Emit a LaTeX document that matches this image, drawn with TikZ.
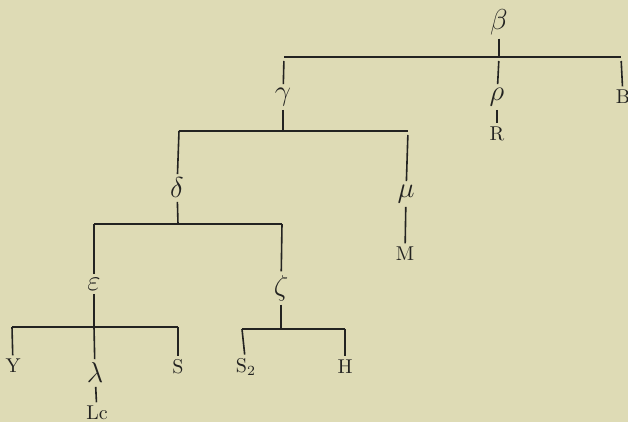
\documentclass[tikz,border=0pt]{standalone}
\usepackage{tikz}
\usepackage{amsmath}
\definecolor{paper}{RGB}{222,219,181}
\definecolor{ink}{RGB}{35,35,33}

\begin{document}
\begin{tikzpicture}[x=0.5pt,y=-0.5pt,
    cladelbl/.style={font=\Large, text=ink},
    taxonlbl/.style={font=\normalsize, text=ink},
    every path/.style={line width=0.8pt}]
    \tikzstyle{every node}+=[inner sep=1.5pt]
    \useasboundingbox [fill=paper] (0,0) rectangle (628,422);
    % labels
    \node [cladelbl] (beta) at (499,22) {$\beta$};
    \node [cladelbl] (gamma) at (283,97) {$\gamma$};
    \node [cladelbl] (rho) at (497,97) {$\rho$};
    \node [taxonlbl] (R) at (497,134) {R};
    \node [taxonlbl] (B) at (623,97) {B};
    \node [cladelbl] (delta) at (177,188) {$\delta$};
    \node [cladelbl] (mu) at (406,194) {$\mu$};
    \node [taxonlbl] (M) at (405,254) {M};
    \node [cladelbl] (eps) at (94,284) {$\varepsilon$};
    \node [cladelbl] (zeta) at (281,288) {$\zeta$};
    \node [taxonlbl] (Y) at (13,366) {Y};
    \node [cladelbl] (lambda) at (95,373) {$\lambda$};
    \node [taxonlbl] (S) at (178,367) {S};
    \node [taxonlbl] (Lc) at (97,413) {Lc};
    \node [taxonlbl] (Stwo) at (246,367) {S$_2$};
    \node [taxonlbl] (H) at (345,367) {H};
    % bars
    \coordinate (jb) at (499,57);
    \coordinate (jbL) at (284,57);
    \coordinate (jbR) at (621,57);
    \coordinate (jg) at (283,131);
    \coordinate (jgL) at (179,131);
    \coordinate (jgR) at (408,131);
    \coordinate (jd) at (178,224);
    \coordinate (jdL) at (94,224);
    \coordinate (jdR) at (282,224);
    \coordinate (je) at (94,327);
    \coordinate (jeL) at (12,327);
    \coordinate (jeR) at (178,327);
    \coordinate (jz) at (281,329);
    \coordinate (jzL) at (242,329);
    \coordinate (jzR) at (345,329);
    \draw [ink] (jbL) -- (jbR);
    \draw [ink] (jgL) -- (jgR);
    \draw [ink] (jdL) -- (jdR);
    \draw [ink] (jeL) -- (jeR);
    \draw [ink] (jzL) -- (jzR);
    % stems
    \draw [ink] (beta) -- (jb);
    \draw [ink, shorten <=2pt] (jbL) -- (gamma);
    \draw [ink, shorten <=2pt] (jb) -- (rho);
    \draw [ink, shorten <=2pt] (jbR) -- (B);
    \draw [ink] (rho) -- (R);
    \draw [ink] (gamma) -- (jg);
    \draw [ink] (jgL) -- (delta);
    \draw [ink, shorten <=2pt] (jgR) -- (mu);
    \draw [ink] (mu) -- (M);
    \draw [ink] (delta) -- (jd);
    \draw [ink] (jdL) -- (eps);
    \draw [ink] (jdR) -- (zeta);
    \draw [ink] (eps) -- (je);
    \draw [ink] (jeL) -- (Y);
    \draw [ink] (je) -- (lambda);
    \draw [ink] (jeR) -- (S);
    \draw [ink] (lambda) -- (Lc);
    \draw [ink] (zeta) -- (jz);
    \draw [ink] (jzL) -- (Stwo);
    \draw [ink] (jzR) -- (H);
\end{tikzpicture}
\end{document}
